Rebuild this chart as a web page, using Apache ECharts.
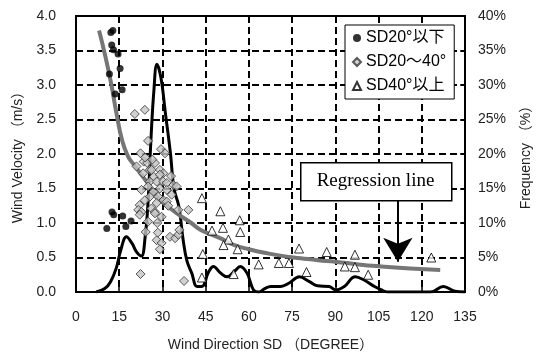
<!DOCTYPE html>
<html>
<head>
<meta charset="utf-8">
<script src="https://cdn.jsdelivr.net/npm/echarts@6/dist/echarts.min.js"></script>
<style>
  html, body { margin: 0; padding: 0; background: #fff; }
  #chart { width: 536px; height: 358px; }
</style>
</head>
<body>
<div id="chart"></div>
<script>
// SD20°以下 - wind direction SD vs wind velocity
const sdLow = [
  [12.1, 3.76], [12.8, 3.79], [12.4, 3.58], [13.0, 3.51], [14.6, 3.45],
  [15.3, 3.24], [11.6, 3.16], [16.0, 2.93], [13.6, 2.87],
  [12.5, 1.16], [13.1, 1.12], [16.2, 1.10], [19.1, 1.03], [10.7, 0.92], [17.3, 0.95]
];

// SD20～40°
const sdMid = [
  [20.4, 2.58], [23.9, 2.64], [25.0, 2.19], [22.4, 2.01], [29.5, 2.07], [30.9, 2.01],
  [21.0, 1.82], [23.5, 1.89], [24.7, 1.87], [27.4, 1.87], [25.6, 1.77], [29.1, 1.77],
  [30.3, 1.72], [33.0, 1.68], [27.0, 1.67], [25.6, 1.60], [28.0, 1.60], [30.3, 1.60],
  [31.5, 1.58], [33.8, 1.55], [34.9, 1.53], [25.0, 1.53], [29.1, 1.50], [22.7, 1.48],
  [26.8, 1.45], [31.5, 1.48], [33.2, 1.41], [25.6, 1.38], [28.5, 1.38], [30.3, 1.33],
  [31.5, 1.31], [22.1, 1.26], [28.0, 1.29], [21.6, 1.19], [22.7, 1.16], [26.2, 1.21],
  [27.4, 1.16], [22.1, 1.12], [29.7, 1.09], [35.5, 1.19], [39.0, 1.19], [25.0, 1.02],
  [28.2, 1.00], [24.2, 0.87], [28.0, 0.75], [29.7, 0.71], [29.1, 0.62], [32.6, 0.80],
  [34.4, 0.78], [35.5, 0.83], [35.9, 0.90], [22.4, 0.26], [37.5, 0.16],
  [23.3, 1.72], [26.2, 1.77], [29.1, 1.70], [23.9, 1.33], [27.4, 1.14], [28.4, 0.86],
  [24.0, 1.95], [26.5, 1.92], [32.0, 1.25]
];

// SD40°以上
const sdHigh = [
  [43.7, 1.36], [50.1, 1.17], [56.8, 1.04], [51.0, 0.93], [47.2, 0.89], [57.0, 0.87],
  [52.9, 0.76], [51.2, 0.68], [56.1, 0.62], [44.0, 0.55], [77.4, 0.63], [87.0, 0.58],
  [96.8, 0.54], [63.4, 0.40], [70.4, 0.42], [73.9, 0.42], [93.3, 0.37], [96.8, 0.36],
  [80.0, 0.29], [54.7, 0.26], [43.7, 0.21], [101.4, 0.25], [123.3, 0.50]
];

// regression line
const regression = [
  [8.0, 3.79], [10, 3.45], [12.2, 3.02], [14, 2.6], [16, 2.2], [18, 1.97], [20, 1.85],
  [22.3, 1.72], [25, 1.57], [28, 1.38], [31, 1.27], [35, 1.14], [40, 1.0], [43.3, 0.9],
  [50, 0.78], [55, 0.68], [60, 0.62], [66.5, 0.56], [72, 0.52], [78, 0.49], [84, 0.46],
  [90, 0.44], [98, 0.40], [106, 0.37], [116, 0.34], [126.4, 0.32]
];

// frequency (%) on right axis
const frequency = [
  [7, 0], [10, 0.5], [12, 1.5], [14, 3.5], [15.5, 6], [17.5, 8], [19.5, 7], [21, 5.8],
  [22.7, 5.2], [24, 8], [25, 13], [26, 22], [27, 29], [28.1, 33], [29.5, 31], [31, 26],
  [32.8, 20], [34, 15], [35.7, 12.4], [37.2, 7.5], [38.5, 4.5], [40.2, 2.7], [42, 0.8],
  [43.7, 0.8], [46, 2.9], [47.7, 3.7], [50, 2.8], [52.4, 2.2], [55, 3], [57, 3.7],
  [59.4, 2.7], [61.6, 0.3], [63.5, 0], [65.5, 0.5], [67.6, 0.8], [71, 0.8], [74, 1.3],
  [77.5, 2.2], [81, 1.5], [83.8, 0.9], [87.9, 0.8], [90.2, 0.3], [93.1, 0.8], [96.9, 2.2],
  [100.1, 1.7], [103.6, 0.8], [106, 0.3], [108, 0], [123, 0], [127.5, 0.8], [131.5, 0.1],
  [135, 0]
];

const arrowLine = [[111.7, 1.33], [111.7, 0.44]];

const font = "'Liberation Sans', 'Noto Sans CJK JP', sans-serif";

const dashed = { show: true, lineStyle: { color: '#000', type: [7, 4], width: 2 } };

const option = {
  animation: false,
  grid: {
    left: 76, right: 71, top: 16, bottom: 66,
    show: true, borderColor: '#000', borderWidth: 2
  },
  legend: {
    orient: 'vertical',
    left: 345, top: 25,
    backgroundColor: '#fff',
    borderColor: '#000', borderWidth: 1,
    padding: [5, 8, 5, 7],
    itemGap: 8, itemWidth: 8, itemHeight: 8,
    textStyle: { fontSize: 16, fontFamily: font, color: '#000' },
    data: [
      { name: 'SD20°以下', itemStyle: { borderWidth: 0 } },
      'SD20～40°',
      'SD40°以上'
    ]
  },
  xAxis: {
    type: 'value', min: 0, max: 135, interval: 15,
    name: 'Wind Direction SD （DEGREE）',
    nameLocation: 'middle', nameGap: 46,
    nameTextStyle: { fontSize: 14, fontFamily: font, color: '#222' },
    axisLine: { lineStyle: { color: '#000', width: 2 } },
    axisTick: { inside: true, length: 5, lineStyle: { color: '#000', width: 1.5 } },
    axisLabel: { fontSize: 14, fontFamily: font, color: '#222', margin: 18 },
    splitLine: dashed
  },
  yAxis: [
    {
      type: 'value', min: 0, max: 4, interval: 0.5,
      name: 'Wind Velocity （m/s）',
      nameLocation: 'middle', nameGap: 46, nameRotate: 90,
      nameTextStyle: { fontSize: 14, fontFamily: font, color: '#222' },
      axisLine: { show: true, lineStyle: { color: '#000', width: 2 } },
      axisTick: { show: true, inside: true, length: 5, lineStyle: { color: '#000', width: 1.5 } },
      axisLabel: { fontSize: 14, fontFamily: font, color: '#222', margin: 20,
        formatter: v => v.toFixed(1) },
      splitLine: dashed
    },
    {
      type: 'value', min: 0, max: 40, interval: 5,
      axisLine: { show: true, lineStyle: { color: '#000', width: 2 } },
      axisTick: { show: true, inside: true, length: 5, lineStyle: { color: '#000', width: 1.5 } },
      axisLabel: { fontSize: 14, fontFamily: font, color: '#222', margin: 13,
        formatter: '{value}%' },
      splitLine: { show: false }
    }
  ],
  series: [
    {
      name: 'frequency', type: 'line', yAxisIndex: 1,
      data: frequency, smooth: 0.4, showSymbol: false,
      lineStyle: { color: '#000', width: 3 }, z: 3
    },
    {
      name: 'regression', type: 'line',
      data: regression, smooth: true, showSymbol: false,
      lineStyle: { color: '#767676', width: 4 }, z: 4,
      markLine: {
        silent: true,
        symbol: ['none', 'arrow'],
        symbolSize: [22, 24],
        label: { show: false },
        lineStyle: { color: '#000', width: 2, type: 'solid' },
        data: [[{ coord: arrowLine[0] }, { coord: arrowLine[1] }]]
      }
    },
    {
      name: 'SD20°以下', type: 'scatter', data: sdLow,
      symbol: 'circle', symbolSize: 7,
      itemStyle: { color: '#000' }, z: 5
    },
    {
      name: 'SD20～40°', type: 'scatter', data: sdMid,
      symbol: 'diamond', symbolSize: 9,
      itemStyle: { color: '#c4c4c4', borderColor: '#333', borderWidth: 1 }, z: 5
    },
    {
      name: 'SD40°以上', type: 'scatter', data: sdHigh,
      symbol: 'triangle', symbolSize: 9,
      itemStyle: { color: '#fff', borderColor: '#000', borderWidth: 1 }, z: 5
    }
  ],
  graphic: [
    { type: 'rect', left: 300, top: 162, z: 100,
      shape: { width: 151, height: 38 },
      style: { fill: '#fff', stroke: '#000', lineWidth: 1.5 } },
    { type: 'text', x: 375.5, y: 181, z: 101,
      style: { text: 'Regression line', font: "19px 'Liberation Serif', serif",
        fill: '#000', align: 'center', verticalAlign: 'middle' } },
    // right axis title, reads bottom to top like the left one
    { type: 'text', x: 526, y: 154, rotation: Math.PI / 2,
      style: { text: 'Frequency （%）', font: "14px 'Liberation Sans', 'Noto Sans CJK JP', sans-serif",
        fill: '#222', align: 'center', verticalAlign: 'middle' } }
  ]
};

const chartDom = document.getElementById('chart');
const myChart = echarts.init(chartDom);
myChart.setOption(option);
</script>
</body>
</html>
